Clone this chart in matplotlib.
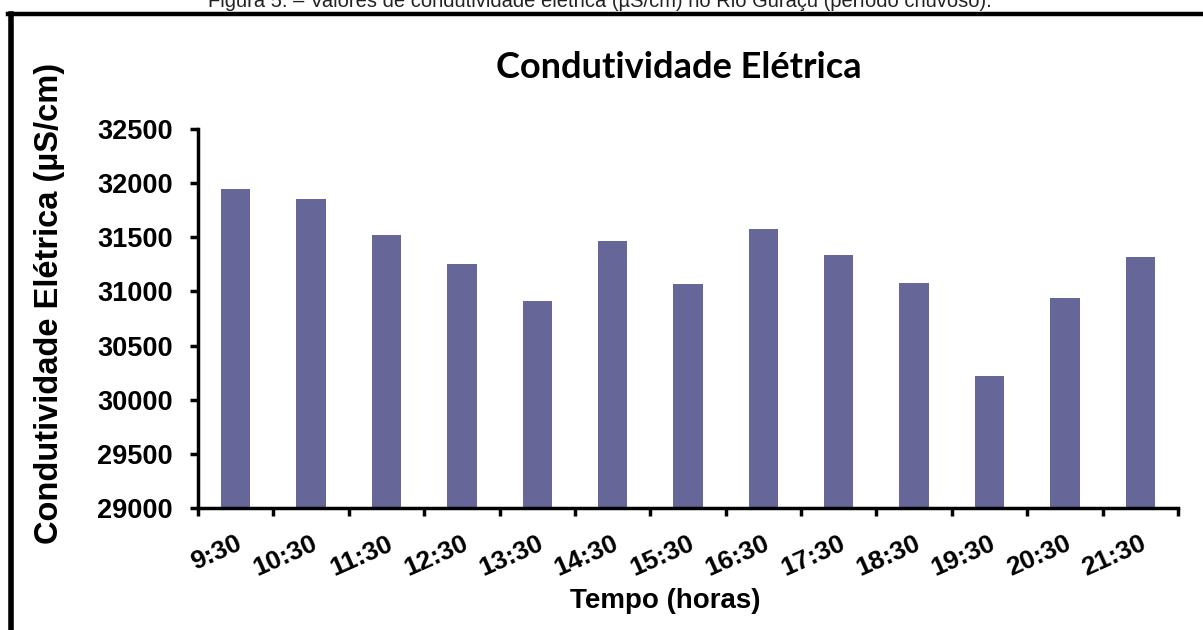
import matplotlib.pyplot as plt
from matplotlib.lines import Line2D
import numpy as np

horas = ["9:30", "10:30", "11:30", "12:30", "13:30", "14:30", "15:30",
         "16:30", "17:30", "18:30", "19:30", "20:30", "21:30"]
condutividade = [31950, 31855, 31520, 31255, 30910, 31470, 31065,
                 31575, 31335, 31080, 30215, 30935, 31320]
yticks = [29000, 29500, 30000, 30500, 31000, 31500, 32000, 32500]

plt.rcParams["font.family"] = ["Liberation Sans", "DejaVu Sans"]

W, H = 1203, 630
fig = plt.figure(figsize=(W / 100, H / 100), dpi=100)
ax = fig.add_axes([198 / W, 1 - 508 / H, 980 / W, 379 / H])

x = np.arange(len(horas))
ax.bar(x, condutividade, width=0.39, color="#666699")

ax.set_ylim(29000, 32500)
ax.set_xlim(-0.5, len(horas) - 0.5)
ax.set_yticks(yticks)
ax.set_yticklabels([str(v) for v in yticks], fontsize=19.5, fontweight="bold")

# ticks on the category borders, labels under the bars
ax.set_xticks(np.arange(-0.5, len(horas)), labels=[])
ax.set_xticks(x, minor=True)
ax.set_xticklabels(horas, minor=True, fontsize=19, fontweight="bold",
                   rotation=24, ha="right", rotation_mode="anchor")
ax.tick_params(axis="x", which="minor", length=0, pad=17)
ax.tick_params(axis="both", which="major", direction="out", length=6, width=2.5)
ax.tick_params(axis="y", pad=12)

for s in ["top", "right"]:
    ax.spines[s].set_visible(False)
for s in ["left", "bottom"]:
    ax.spines[s].set_linewidth(2.5)

fig.text(50 / W, 1 - 303 / H, "Condutividade Elétrica (µS/cm)", rotation=90,
         ha="center", va="center", fontsize=23.5, fontweight="bold")
fig.text(665 / W, 1 - 601 / H, "Tempo (horas)", ha="center", va="center",
         fontsize=20, fontweight="bold")
fig.text(679 / W, 1 - 67 / H, "Condutividade Elétrica", ha="center", va="center",
         fontsize=26, fontweight="bold", family=["Lato", "DejaVu Sans"])

# caption of the figure, cut by the page edge
fig.text(600 / W, 1 - 7 / H,
         "Figura 5. – Valores de condutividade elétrica (µS/cm) no Rio Guraçu (período chuvoso).",
         ha="center", va="baseline", fontsize=14.5, color="#222222")

# frame around the chart
fig.add_artist(Line2D([8 / W, 1], [1 - 14 / H, 1 - 14 / H], color="black",
                      lw=3.2, transform=fig.transFigure))
fig.add_artist(Line2D([11 / W, 11 / W], [0, 1 - 14 / H], color="black",
                      lw=4, transform=fig.transFigure))

fig.savefig("out.png", dpi=100)
